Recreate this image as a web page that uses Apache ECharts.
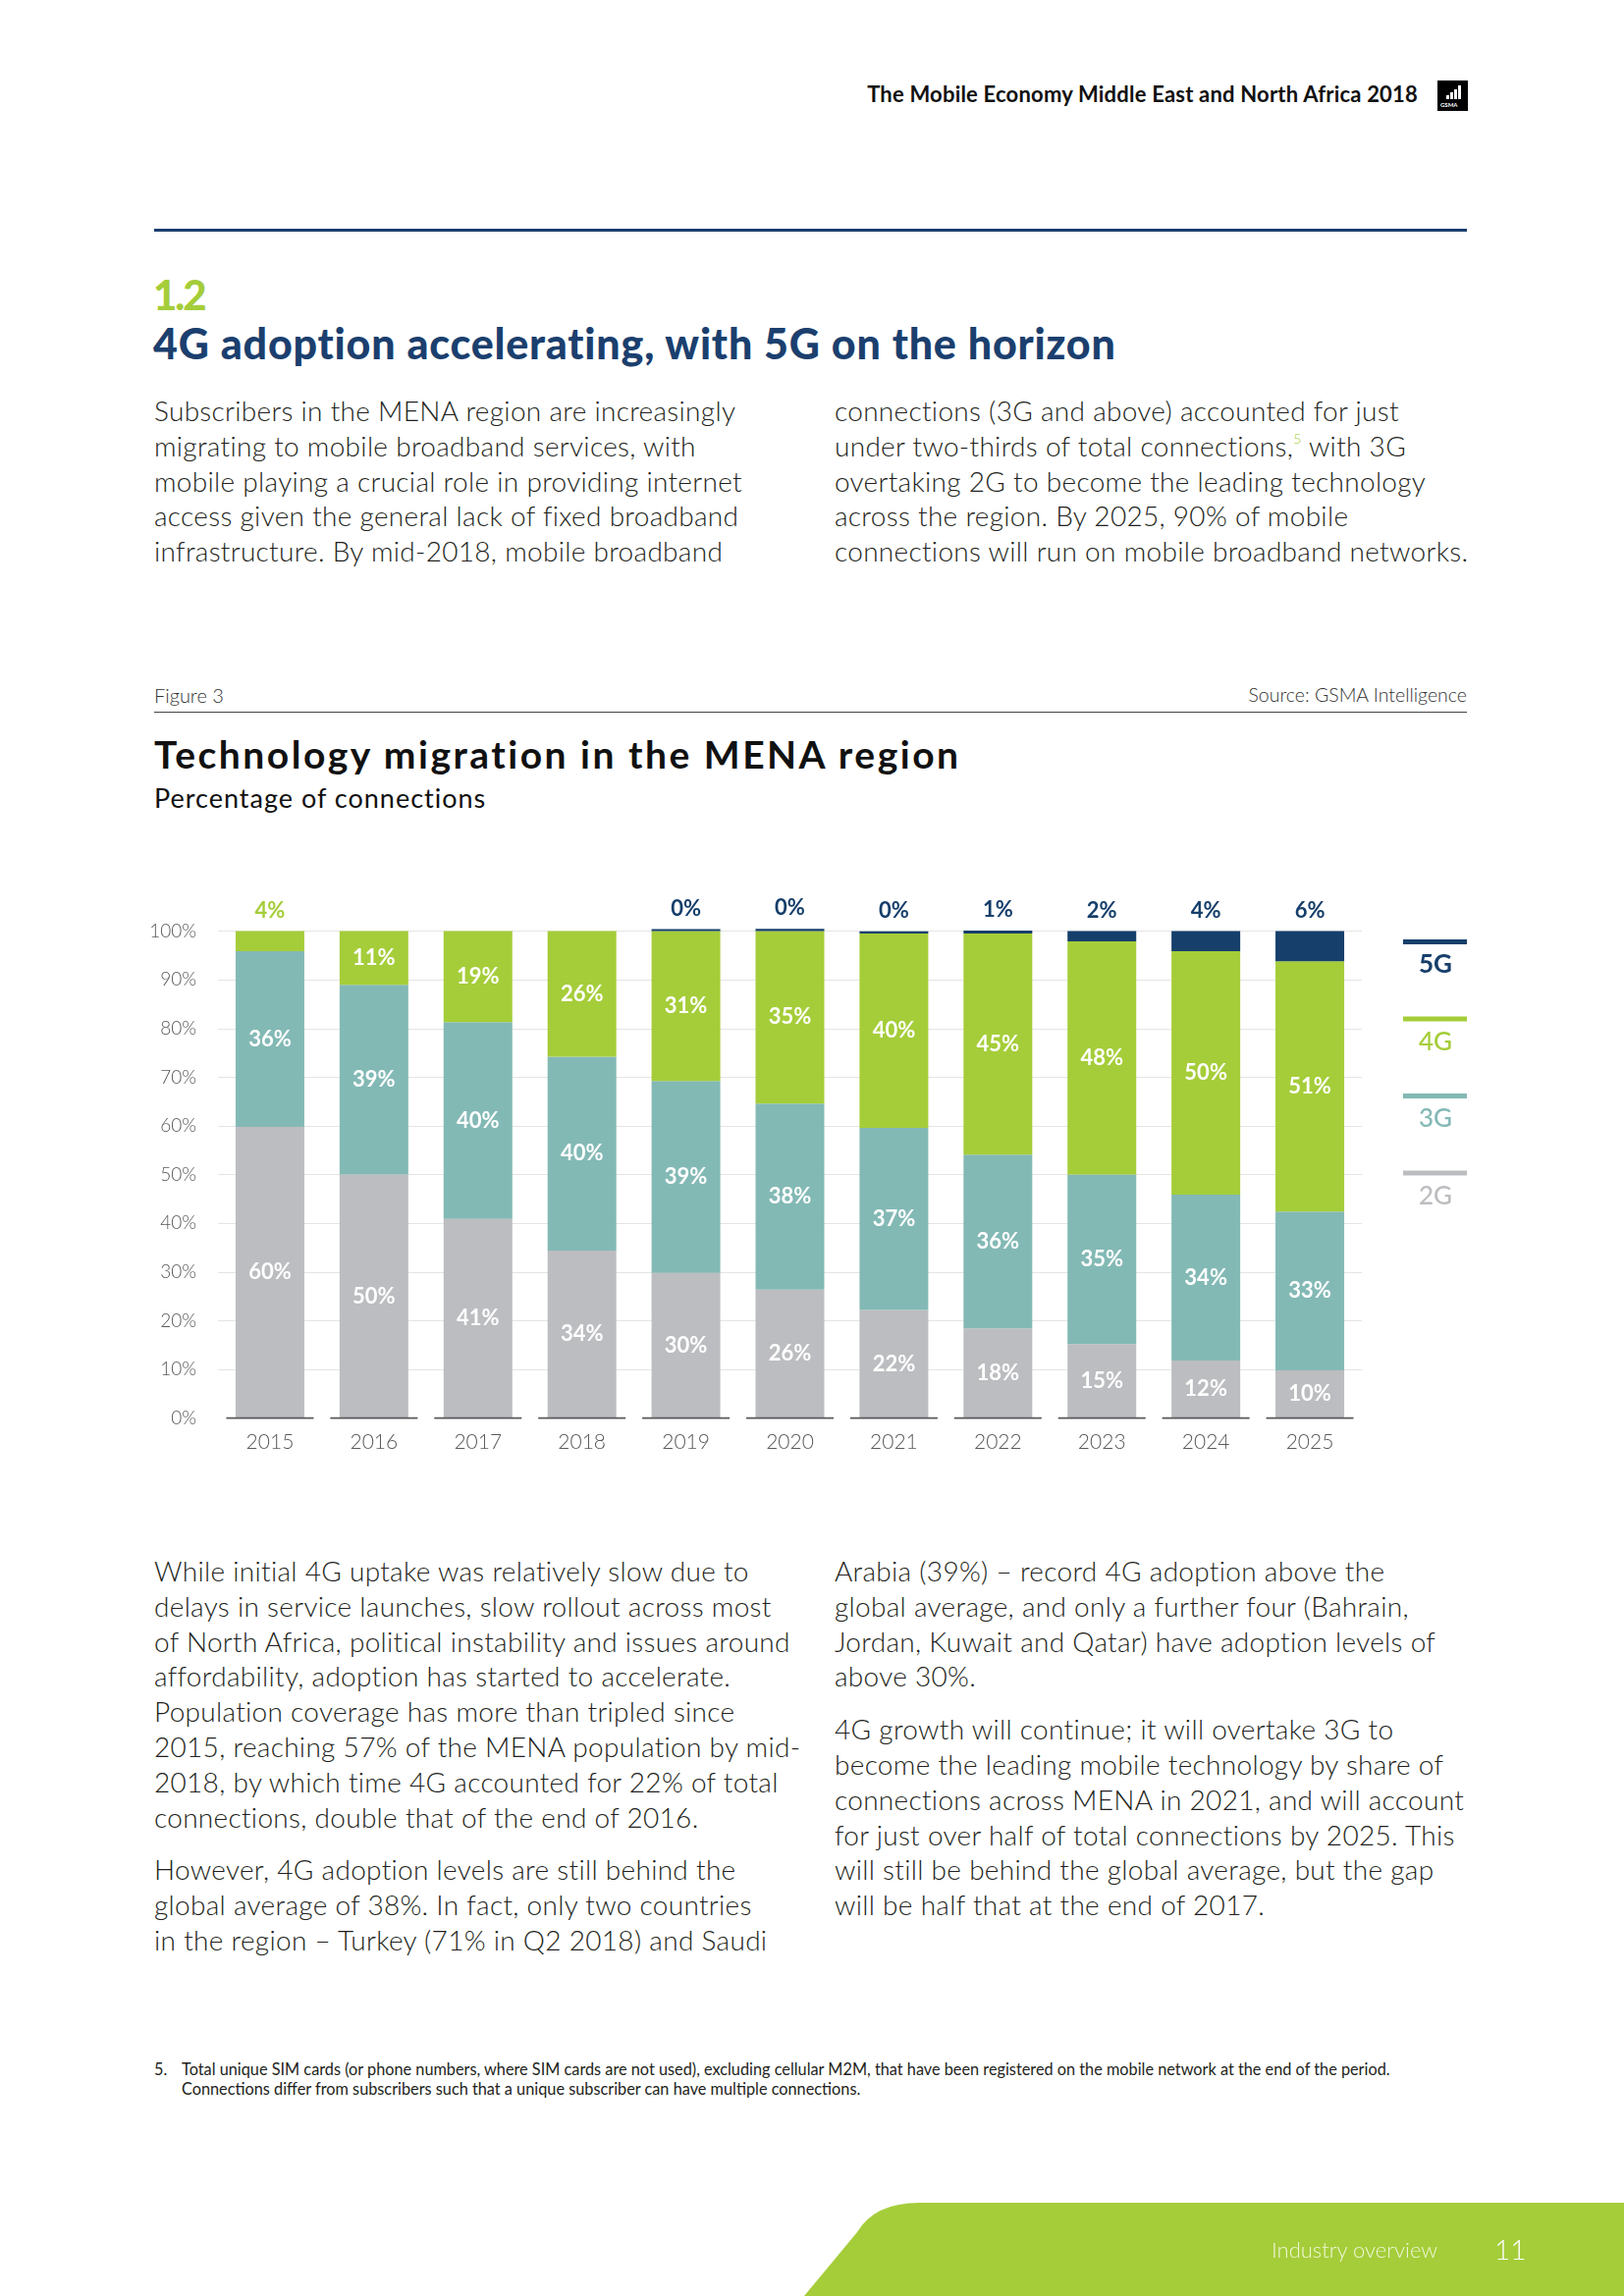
<!DOCTYPE html>
<html><head><meta charset="utf-8">
<script src="https://cdn.jsdelivr.net/npm/echarts@6/dist/echarts.min.js"></script>
<style>
body{margin:0;width:1654px;height:2339px;position:relative;background:#fff;font-family:Lato,'Noto Sans',sans-serif;overflow:hidden}
.abs{position:absolute;white-space:nowrap}
.p{font-weight:300;font-size:28px;letter-spacing:0.3px;line-height:35.8px;color:#231f20}
.p div{height:35.8px}
sup{color:#a5cd39;font-size:14px;vertical-align:top;line-height:20px}
</style></head>
<body>
<div class="abs" style="right:210px;top:83px;font-size:22px;letter-spacing:0.2px;font-weight:700;color:#111;line-height:26px">The Mobile Economy Middle East and North Africa 2018</div>
<div class="abs" style="left:1464px;top:82px;width:31px;height:31px;background:#000">
  <div class="abs" style="left:9px;top:15px;width:3px;height:4px;background:#fff"></div>
  <div class="abs" style="left:13px;top:12px;width:3px;height:7px;background:#fff"></div>
  <div class="abs" style="left:17px;top:9px;width:3px;height:10px;background:#fff"></div>
  <div class="abs" style="left:21px;top:5px;width:3px;height:14px;background:#fff"></div>
  <div class="abs" style="left:3px;top:21px;font-size:6px;color:#fff;font-weight:700">GSMA</div>
</div>
<div class="abs" style="left:157px;top:233px;width:1337px;height:3px;background:#1b3f6e"></div>
<div class="abs" style="left:156px;top:278px;font-size:42px;font-weight:900;color:#a5cd39;line-height:44px;letter-spacing:-2px">1.2</div>
<div class="abs" style="left:156px;top:325px;font-size:43px;font-weight:900;color:#1b3f6e;line-height:50px;letter-spacing:0.8px">4G adoption accelerating, with 5G on the horizon</div>

<div class="abs p" style="left:157px;top:401px">
<div>Subscribers in the MENA region are increasingly</div>
<div>migrating to mobile broadband services, with</div>
<div>mobile playing a crucial role in providing internet</div>
<div>access given the general lack of fixed broadband</div>
<div>infrastructure. By mid-2018, mobile broadband</div>
</div>
<div class="abs p" style="left:850px;top:401px">
<div>connections (3G and above) accounted for just</div>
<div>under two-thirds of total connections,<sup>5</sup> with 3G</div>
<div>overtaking 2G to become the leading technology</div>
<div>across the region. By 2025, 90% of mobile</div>
<div>connections will run on mobile broadband networks.</div>
</div>

<div class="abs" style="left:157px;top:696px;font-size:20px;font-weight:300;color:#333;line-height:24px">Figure 3</div>
<div class="abs" style="right:160px;top:696px;font-size:19.5px;font-weight:300;color:#333;line-height:24px">Source: GSMA Intelligence</div>
<div class="abs" style="left:157px;top:725px;width:1337px;height:1px;background:#444"></div>
<div class="abs" style="left:157px;top:745px;font-size:39px;font-weight:700;color:#111;line-height:46px;letter-spacing:2.5px">Technology migration in the MENA region</div>
<div class="abs" style="left:157px;top:797px;font-size:27px;font-weight:400;color:#111;line-height:32px;letter-spacing:1px">Percentage of connections</div>

<div id="chart" class="abs" style="left:0;top:880px;width:1654px;height:640px"></div>

<div class="abs p" style="left:157px;top:1583px">
<div>While initial 4G uptake was relatively slow due to</div>
<div>delays in service launches, slow rollout across most</div>
<div>of North Africa, political instability and issues around</div>
<div>affordability, adoption has started to accelerate.</div>
<div>Population coverage has more than tripled since</div>
<div>2015, reaching 57% of the MENA population by mid-</div>
<div>2018, by which time 4G accounted for 22% of total</div>
<div>connections, double that of the end of 2016.</div>
<div style="height:18px"></div>
<div>However, 4G adoption levels are still behind the</div>
<div>global average of 38%. In fact, only two countries</div>
<div>in the region – Turkey (71% in Q2 2018) and Saudi</div>
</div>
<div class="abs p" style="left:850px;top:1583px">
<div>Arabia (39%) – record 4G adoption above the</div>
<div>global average, and only a further four (Bahrain,</div>
<div>Jordan, Kuwait and Qatar) have adoption levels of</div>
<div>above 30%.</div>
<div style="height:18px"></div>
<div>4G growth will continue; it will overtake 3G to</div>
<div>become the leading mobile technology by share of</div>
<div>connections across MENA in 2021, and will account</div>
<div>for just over half of total connections by 2025. This</div>
<div>will still be behind the global average, but the gap</div>
<div>will be half that at the end of 2017.</div>
</div>

<div class="abs" style="left:157px;top:2098px;font-size:16.3px;font-weight:400;color:#231f20;line-height:20px">5.</div>
<div class="abs" style="left:185px;top:2098px;font-size:16.3px;font-weight:400;color:#231f20;line-height:20px">Total unique SIM cards (or phone numbers, where SIM cards are not used), excluding cellular M2M, that have been registered on the mobile network at the end of the period.<br>Connections differ from subscribers such that a unique subscriber can have multiple connections.</div>

<svg class="abs" style="left:0;top:0" width="1654" height="2339">
<path d="M819,2339 L873,2274 Q891,2244 936,2244 L1654,2244 L1654,2339 Z" fill="#a5cd39"/>
</svg>
<div class="abs" style="left:1295px;top:2279px;font-size:22px;font-weight:300;color:#eef6d6;line-height:26px">Industry overview</div>
<div class="abs" style="left:1522px;top:2274px;font-size:28px;font-weight:300;color:#fff;line-height:34px">11</div>

<script>
const years = ['2015','2016','2017','2018','2019','2020','2021','2022','2023','2024','2025'];
const share2G = [59.8, 50.0, 40.9, 34.4, 29.8, 26.4, 22.2, 18.4, 15.2, 11.8, 9.8];
const share3G = [36.1, 39.0, 40.4, 39.8, 39.4, 38.2, 37.4, 35.7, 34.8, 34.1, 32.6];
const share4G = [4.1, 11.0, 18.7, 25.8, 30.8, 35.4, 39.9, 45.4, 47.9, 50.0, 51.4];
const share5G = [null, null, null, null, 0.4, 0.45, 0.45, 0.6, 2.1, 4.1, 6.2];
const seriesNames = ['2G','3G','4G','5G'];

const C2 = '#bcbdc0', C3 = '#83b9b5', C4 = '#a5cd39', C5 = '#163f6b';
const FONT = 'Lato';
const pct = p => Math.round(p.value) + '%';
const inLabel = {show:true, position:'inside', color:'#fff', fontWeight:'bold', fontSize:22, fontFamily:FONT, formatter:pct};

const chart = echarts.init(document.getElementById('chart'), null, {renderer:'canvas'});
const gridTop = 68.6, gridBottom = 75.4;
const legendColors = [C5, C4, C3, C2];
const legendNames = ['5G','4G','3G','2G'];
const graphics = [];
legendNames.forEach((n, i) => {
  const y = 77 + i * 78.5;
  graphics.push({type:'rect', left:1429, top:y, shape:{width:65, height:5}, style:{fill:legendColors[i]}});
  graphics.push({type:'text', x:1462, y:y + 26, style:{text:n, fill:legendColors[i], font:(i===0?'bold ':'500 ') + '26px ' + FONT, textAlign:'center', textVerticalAlign:'middle'}});
});

chart.setOption({
  backgroundColor:'transparent',
  animation:false,
  grid:{left:222, right:267, top:gridTop, bottom:gridBottom},
  xAxis:{type:'category', data:years, axisLine:{show:false}, axisTick:{show:false},
    axisLabel:{fontSize:21, fontFamily:FONT, fontWeight:300, color:'#58595b', margin:14}},
  yAxis:{type:'value', min:0, max:100, interval:10,
    axisLabel:{formatter:'{value}%', fontSize:19, fontFamily:FONT, fontWeight:300, color:'#58595b', margin:22},
    axisLine:{show:false}, axisTick:{show:false},
    splitLine:{show:true, showMinLine:false, lineStyle:{color:'#e4e4e4', width:1}}},
  graphic: graphics,
  series:[
    {name:seriesNames[0], type:'bar', stack:'t', barWidth:70, data:share2G, itemStyle:{color:C2}, label:inLabel},
    {name:seriesNames[1], type:'bar', stack:'t', barWidth:70, data:share3G, itemStyle:{color:C3}, label:inLabel},
    {name:seriesNames[2], type:'bar', stack:'t', barWidth:70, itemStyle:{color:C4}, label:inLabel,
      data: share4G.map(v => v < 6 ? {value:v, label:{position:'top', distance:10, color:C4}} : v)},
    {name:seriesNames[3], type:'bar', stack:'t', barWidth:70, clip:false, data:share5G, itemStyle:{color:C5},
      label:{show:true, position:'top', distance:10, color:C5, fontWeight:'bold', fontSize:22, fontFamily:FONT, formatter:pct}},
    {type:'custom', silent:true, z:10, clip:false,
      data: years.map((y, i) => [i, 0]),
      renderItem:(params, api) => {
        const p = api.coord([api.value(0), 0]);
        const w = api.size([1, 0])[0] * 0.84;
        return {type:'line', shape:{x1:p[0]-w/2, y1:p[1], x2:p[0]+w/2, y2:p[1]}, style:{stroke:'#58595b', lineWidth:1.6}};
      }}
  ]
});
</script>
</body></html>
